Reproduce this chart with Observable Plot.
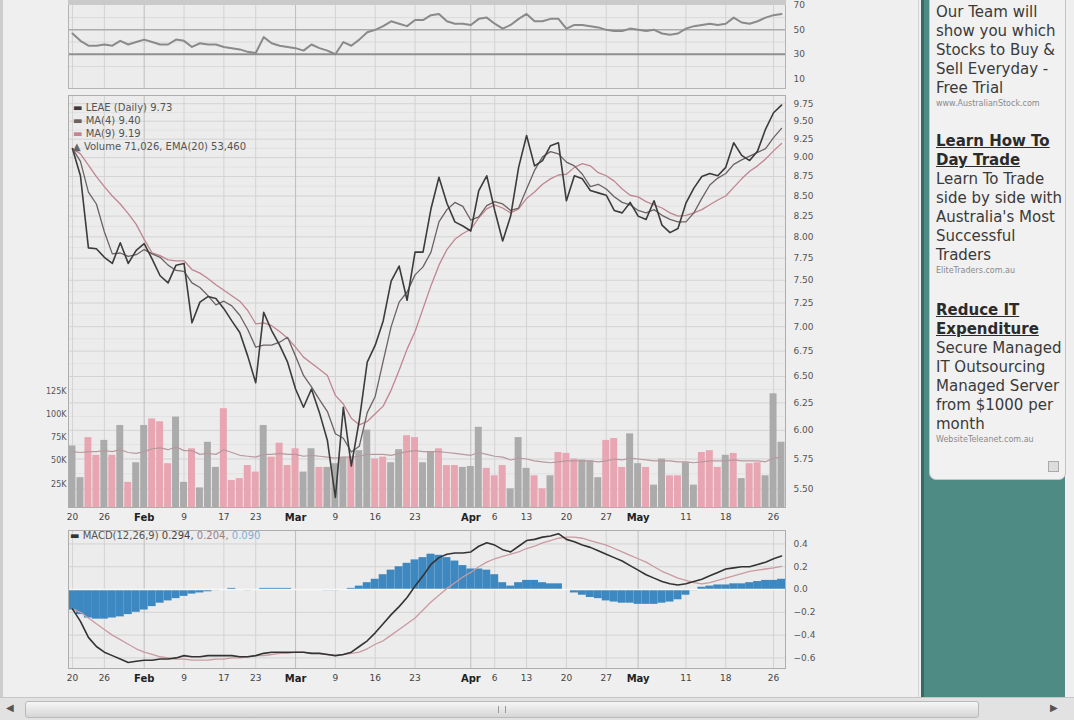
<!DOCTYPE html>
<html>
<head>
<meta charset="utf-8">
<script src="https://cdn.jsdelivr.net/npm/d3@7"></script>
<script src="https://cdn.jsdelivr.net/npm/@observablehq/plot@0.6"></script>
<style>
  body { margin: 0; width: 1074px; height: 720px; overflow: hidden; position: relative;
         background: #efefef; font-family: "DejaVu Sans", Verdana, sans-serif; }
  .layer { position: absolute; left: 0; }
  .layer svg { display: block; }
  #leftedge { position: absolute; left: 0; top: 0; width: 3px; height: 697px; background: #cdcdcd; }
  #topband { position: absolute; left: 68px; top: 0; width: 718px; height: 5px; background: #cacaca; }
  .legend { position: absolute; font-size: 10px; line-height: 13px; color: #555; white-space: nowrap; }
  #pagesep { position: absolute; left: 918px; top: 0; width: 1px; height: 697px; background: #d4d4d4; }
  #side { position: absolute; left: 921px; top: 0; width: 141px; height: 697px; background: #4e8b84;
          border-left: 3px solid #3a6964; }
  #ads { position: absolute; left: 929px; top: -6px; width: 135px; height: 476px; padding-top: 8px;
         background: #f1f1f1; border: 1px solid #c4c4c4; border-radius: 0 0 7px 7px; overflow: hidden;
         color: #3a3a3a; font-size: 15px; line-height: 19px; white-space: nowrap; }
  #ads .ad { padding-left: 6px; }
  #ads .hd { font-weight: bold; text-decoration: underline; color: #2b2b2b; }
  #ads .url { padding-left: 6px; font-size: 8px; line-height: 12px; color: #8a8a8a; }
  #ads .icon { position: absolute; left: 118px; top: 466px; width: 9px; height: 9px;
               border: 1px solid #aaa; background: #ddd; }
  #hscroll { position: absolute; left: 0; top: 697px; width: 1074px; height: 23px; background: #e2e2e2;
             border-top: 1px solid #c6c6c6; }
  #hscroll .thumb { position: absolute; left: 25px; top: 3px; width: 952px; height: 15px;
                    background: linear-gradient(#f6f6f6, #d6d6d6); border: 1px solid #b9b9b9; border-radius: 3px; }
  #hscroll .grip { position: absolute; left: 472px; top: 4px; width: 6px; height: 7px;
                   border-left: 1px solid #999; border-right: 1px solid #999; }
  #hscroll .arrow { position: absolute; top: 4px; font-size: 10px; color: #555; }
</style>
</head>
<body>
<div id="leftedge"></div>
<div class="layer" id="rsi" style="top:0"></div>
<div id="topband"></div>
<div class="layer" id="pgrid" style="top:90px"></div>
<div class="layer" id="vol" style="top:90px"></div>
<div class="layer" id="price" style="top:90px"></div>
<div class="layer" id="macd" style="top:525px"></div>

<div class="legend" style="left:73px; top:101px">
  <div><span style="color:#3c3c3c">&#9644;</span> LEAE (Daily) 9.73</div>
  <div><span style="color:#6d6262">&#9644;</span> MA(4) 9.40</div>
  <div><span style="color:#c08590">&#9644;</span> MA(9) 9.19</div>
  <div><span style="color:#666">&#9650;</span> Volume 71,026, EMA(20) 53,460</div>
</div>
<div class="legend" style="left:70px; top:529px">
  <span style="color:#333">&#9644;</span> MACD(12,26,9) <span style="color:#444">0.294,</span>
  <span style="color:#a07c82">0.204,</span> <span style="color:#7fb1d6">0.090</span>
</div>

<div id="pagesep"></div>
<div id="side"></div>
<div id="ads">
  <div class="ad">Our Team will<br>show you which<br>Stocks to Buy &amp;<br>Sell Everyday -<br>Free Trial</div>
  <div class="url">www.AustralianStock.com</div>
  <div class="ad" style="margin-top:22px"><span class="hd">Learn How To<br>Day Trade</span><br>Learn To Trade<br>side by side with<br>Australia's Most<br>Successful<br>Traders</div>
  <div class="url">EliteTraders.com.au</div>
  <div class="ad" style="margin-top:24px"><span class="hd">Reduce IT<br>Expenditure</span><br>Secure Managed<br>IT Outsourcing<br>Managed Server<br>from $1000 per<br>month</div>
  <div class="url">WebsiteTeleanet.com.au</div>
  <div class="icon"></div>
</div>
<div id="hscroll">
  <div class="arrow" style="left:6px">&#9664;</div>
  <div class="thumb"><div class="grip"></div></div>
  <div class="arrow" style="left:1050px">&#9654;</div>
</div>

<script>
// trading-day index 0..89 (20 Jan - end of May)
const tickIdx = [0, 4, 14, 19, 23, 33, 38, 43, 53, 57, 62, 67, 77, 82, 88];
const tickLabels = ["20", "26", "9", "17", "23", "9", "16", "23", "6", "13", "20", "27", "11", "18", "26"];
const monthIdx = [9, 28, 50, 71];
const monthLabels = ["Feb", "Mar", "Apr", "May"];

const priceTicks = [5.5, 5.75, 6, 6.25, 6.5, 6.75, 7, 7.25, 7.5, 7.75, 8, 8.25, 8.5, 8.75, 9, 9.25, 9.5, 9.75];
const volTicks = [25000, 50000, 75000, 100000, 125000];
const macdTicks = [-0.6, -0.4, -0.2, 0, 0.2, 0.4];
const rsiTicks = [70, 50, 30, 10];

const close = [
  9.12, 8.76, 7.87, 7.86, 7.76, 7.69, 7.93, 7.69, 7.84, 7.92,
  7.74, 7.55, 7.47, 7.67, 7.69, 7.04, 7.26, 7.32, 7.30, 7.19,
  7.06, 6.94, 6.70, 6.44, 7.15, 6.96, 6.81, 6.64, 6.38, 6.21,
  6.38, 6.16, 5.91, 5.43, 6.21, 5.69, 6.09, 6.64, 6.81, 7.06,
  7.49, 7.66, 7.28, 7.82, 7.82, 8.34, 8.74, 8.41, 8.18, 8.13,
  8.07, 8.57, 8.76, 8.32, 7.95, 8.25, 8.87, 9.30, 8.89, 8.96,
  9.16, 9.20, 8.44, 8.76, 8.72, 8.57, 8.54, 8.51, 8.32, 8.29,
  8.42, 8.25, 8.21, 8.44, 8.14, 8.05, 8.10, 8.41, 8.60, 8.75,
  8.79, 8.76, 8.87, 9.20, 9.03, 8.96, 9.09, 9.39, 9.62, 9.73];

const ma4 = [
  9.12, 8.95, 8.55, 8.40, 8.06, 7.80, 7.81, 7.77, 7.79, 7.85,
  7.80, 7.76, 7.67, 7.61, 7.60, 7.47, 7.42, 7.33, 7.23, 7.27,
  7.22, 7.12, 6.97, 6.79, 6.81, 6.81, 6.84, 6.89, 6.70, 6.51,
  6.40, 6.28, 6.17, 5.97, 5.93, 5.81, 5.86, 6.16, 6.31, 6.65,
  7.00, 7.26, 7.37, 7.56, 7.65, 7.82, 8.18, 8.33, 8.42, 8.37,
  8.20, 8.24, 8.38, 8.43, 8.40, 8.32, 8.35, 8.59, 8.83, 9.01,
  9.08, 9.05, 8.94, 8.89, 8.78, 8.62, 8.65, 8.59, 8.49, 8.42,
  8.39, 8.32, 8.29, 8.33, 8.26, 8.21, 8.18, 8.18, 8.29, 8.47,
  8.64, 8.73, 8.79, 8.91, 8.97, 9.02, 9.07, 9.12, 9.27, 9.40];

const ma9 = [
  9.12, 9.05, 8.90, 8.75, 8.62, 8.50, 8.40, 8.28, 8.15, 7.97,
  7.81, 7.78, 7.73, 7.72, 7.72, 7.62, 7.58, 7.52, 7.45, 7.39,
  7.33, 7.27, 7.17, 7.03, 7.04, 7.01, 6.95, 6.88, 6.79, 6.69,
  6.63, 6.57, 6.51, 6.32, 6.24, 6.11, 6.05, 6.08, 6.15, 6.22,
  6.37, 6.56, 6.77, 6.95, 7.19, 7.44, 7.67, 7.85, 7.97, 8.04,
  8.09, 8.23, 8.34, 8.39, 8.35, 8.29, 8.34, 8.47, 8.55, 8.65,
  8.72, 8.77, 8.78, 8.87, 8.92, 8.89, 8.80, 8.76, 8.69, 8.59,
  8.51, 8.49, 8.43, 8.39, 8.35, 8.29, 8.25, 8.26, 8.29, 8.33,
  8.39, 8.45, 8.50, 8.61, 8.72, 8.82, 8.89, 8.98, 9.09, 9.19];

// volume in thousands, 1 = down day (pink bar)
const volK = [
  66, 32, 75, 56, 72, 56, 88, 27, 48, 88,
  95, 92, 47, 97, 27, 63, 21, 70, 43, 106,
  29, 31, 45, 38, 88, 54, 69, 45, 63, 38,
  63, 43, 43, 47, 54, 54, 61, 83, 52, 54,
  48, 62, 77, 75, 48, 59, 63, 45, 45, 43,
  44, 86, 42, 34, 45, 20, 75, 42, 34, 20,
  34, 59, 58, 52, 51, 50, 32, 72, 74, 43,
  79, 47, 43, 24, 52, 34, 34, 48, 24, 59,
  61, 43, 56, 58, 31, 47, 48, 34, 122, 70];
const volDown = [
  0, 0, 1, 1, 0, 1, 0, 1, 0, 0,
  1, 1, 1, 0, 0, 1, 0, 0, 0, 1,
  1, 1, 1, 1, 0, 1, 1, 1, 1, 0,
  0, 1, 0, 0, 0, 1, 0, 0, 1, 1,
  0, 0, 1, 1, 0, 0, 1, 1, 1, 0,
  0, 0, 1, 1, 1, 0, 0, 0, 1, 1,
  0, 1, 1, 1, 0, 0, 0, 1, 1, 1,
  0, 0, 1, 0, 0, 1, 1, 0, 0, 1,
  1, 1, 0, 1, 0, 1, 1, 0, 0, 0];
const volEmaK = [
  60, 59, 60, 60, 61, 60, 62, 59, 58, 60,
  63, 64, 62, 65, 61, 61, 57, 58, 57, 62,
  59, 56, 55, 54, 57, 57, 58, 57, 57, 55,
  56, 55, 54, 53, 54, 54, 55, 57, 57, 57,
  56, 58, 60, 61, 60, 60, 60, 59, 58, 57,
  56, 59, 57, 55, 54, 51, 53, 52, 50, 49,
  48, 49, 50, 50, 50, 50, 49, 50, 52, 51,
  53, 52, 51, 50, 50, 50, 49, 49, 48, 49,
  50, 50, 50, 51, 50, 50, 50, 49, 53, 54];

const rsi = [
  47, 41, 37, 37, 38, 37, 41, 38, 40, 42,
  40, 38, 38, 42, 41, 36, 39, 38, 38, 36,
  35, 34, 32, 31, 44, 39, 37, 36, 35, 33,
  38, 35, 33, 30, 40, 37, 42, 48, 50, 53,
  57, 55, 53, 58, 58, 62, 63, 57, 55, 55,
  54, 59, 60, 55, 51, 54, 59, 63, 57, 57,
  59, 59, 51, 54, 54, 53, 52, 50, 49, 49,
  51, 50, 49, 50, 47, 46, 47, 51, 53, 54,
  55, 54, 55, 60, 56, 55, 57, 60, 62, 63];

const macd = [
  -0.17, -0.28, -0.42, -0.50, -0.55, -0.58, -0.61, -0.64, -0.63, -0.62,
  -0.62, -0.61, -0.61, -0.60, -0.58, -0.59, -0.59, -0.58, -0.58, -0.58,
  -0.58, -0.59, -0.59, -0.58, -0.56, -0.55, -0.55, -0.55, -0.55, -0.55,
  -0.56, -0.56, -0.57, -0.58, -0.57, -0.55, -0.50, -0.45, -0.38, -0.30,
  -0.22, -0.15, -0.07, 0.03, 0.12, 0.22, 0.28, 0.31, 0.32, 0.32,
  0.33, 0.38, 0.41, 0.39, 0.35, 0.33, 0.38, 0.43, 0.44, 0.46,
  0.47, 0.49, 0.44, 0.42, 0.39, 0.37, 0.34, 0.31, 0.28, 0.25,
  0.21, 0.17, 0.13, 0.10, 0.07, 0.05, 0.04, 0.05, 0.07, 0.09,
  0.12, 0.15, 0.18, 0.19, 0.20, 0.20, 0.22, 0.24, 0.27, 0.294];
const signal = [
  -0.17, -0.20, -0.25, -0.30, -0.35, -0.40, -0.44, -0.48, -0.52, -0.55,
  -0.57, -0.59, -0.60, -0.61, -0.61, -0.62, -0.62, -0.62, -0.61, -0.61,
  -0.60, -0.60, -0.59, -0.58, -0.58, -0.57, -0.56, -0.56, -0.55, -0.55,
  -0.56, -0.56, -0.57, -0.58, -0.57, -0.56, -0.55, -0.52, -0.48, -0.45,
  -0.40, -0.35, -0.30, -0.25, -0.18, -0.11, -0.05, 0.01, 0.06, 0.11,
  0.15, 0.20, 0.24, 0.27, 0.29, 0.31, 0.33, 0.36, 0.38, 0.41,
  0.43, 0.45, 0.46, 0.46, 0.45, 0.43, 0.41, 0.39, 0.36, 0.33,
  0.30, 0.27, 0.24, 0.20, 0.16, 0.13, 0.10, 0.08, 0.06, 0.05,
  0.06, 0.08, 0.10, 0.12, 0.14, 0.16, 0.17, 0.18, 0.19, 0.204];
const hist = [
  -0.18, -0.22, -0.25, -0.26, -0.26, -0.25, -0.24, -0.22, -0.20, -0.18,
  -0.15, -0.12, -0.10, -0.08, -0.06, -0.04, -0.03, -0.02, -0.01, 0.00,
  0.01, 0.00, -0.01, 0.00, 0.01, 0.01, 0.01, 0.01, 0.00, 0.00,
  0.00, 0.00, -0.01, -0.01, 0.00, 0.01, 0.03, 0.06, 0.09, 0.13,
  0.17, 0.20, 0.23, 0.26, 0.28, 0.31, 0.30, 0.28, 0.25, 0.21,
  0.18, 0.18, 0.17, 0.13, 0.06, 0.03, 0.06, 0.08, 0.08, 0.06,
  0.05, 0.05, 0.00, -0.03, -0.05, -0.07, -0.08, -0.10, -0.11, -0.12,
  -0.12, -0.13, -0.13, -0.13, -0.12, -0.11, -0.09, -0.05, -0.01, 0.02,
  0.03, 0.04, 0.04, 0.05, 0.05, 0.06, 0.07, 0.08, 0.08, 0.09];

const days = close.map((c, i) => ({
  i, close: c, ma4: ma4[i], ma9: ma9[i],
  vol: volK[i] * 1000, down: volDown[i] === 1, ema: volEmaK[i] * 1000,
  rsi: rsi[i], macd: macd[i], signal: signal[i], hist: hist[i]
}));

const W = 830, ML = 68, MR = 45;
const xDomain = [-0.5, 89.5];
const font = "'DejaVu Sans', Verdana, sans-serif";
const dayLabel = new Map(tickIdx.map((t, k) => [t, tickLabels[k]]));
const monthLabel = new Map(monthIdx.map((t, k) => [t, monthLabels[k]]));

function vGrid() {
  return [
    Plot.ruleX(tickIdx, {stroke: "#d3d3d3"}),
    Plot.ruleX(monthIdx, {stroke: "#bebebe"})
  ];
}

function xAxes() {
  return [
    Plot.axisX(tickIdx, {anchor: "bottom", tickSize: 0, tickPadding: 6, label: null,
      tickFormat: d => dayLabel.get(d), fontSize: 9, color: "#444"}),
    Plot.axisX(monthIdx, {anchor: "bottom", tickSize: 0, tickPadding: 6, label: null,
      tickFormat: d => monthLabel.get(d), fontSize: 10, fontWeight: "bold", color: "#222"})
  ];
}

const base = {width: W, marginLeft: ML, marginRight: MR,
  style: {background: "transparent", fontFamily: font}};

// RSI strip at the top
let rsiChart = Plot.plot({
  ...base, height: 92, marginTop: 0, marginBottom: 4,
  x: {domain: xDomain, axis: null},
  y: {domain: [2, 74], axis: null},
  marks: [
    Plot.frame({fill: "#ececec"}),
    Plot.ruleY([20, 40, 60], {stroke: "#dadada"}),
    ...vGrid(),
    Plot.ruleY([50], {stroke: "#ababab", strokeWidth: 1.5}),
    Plot.ruleY([30], {stroke: "#8f8f8f", strokeWidth: 2}),
    Plot.lineY(days, {x: "i", y: "rsi", stroke: "#8a8a8a", strokeWidth: 2}),
    Plot.axisY(rsiTicks, {anchor: "right", tickSize: 0, tickPadding: 8, fontSize: 9, color: "#555", label: null}),
    Plot.frame({stroke: "#b3b3b3"})
  ]
});

// price panel background: grid + right axis (log scale)
let gridChart = Plot.plot({
  ...base, height: 440, marginTop: 5, marginBottom: 23,
  x: {domain: xDomain, axis: null},
  y: {type: "log", domain: [5.35, 9.87], axis: null},
  marks: [
    Plot.frame({fill: "#ececec"}),
    Plot.ruleY(priceTicks.slice(1).map(t => t - 0.125), {stroke: "#e2e2e2"}),
    Plot.ruleY(priceTicks, {stroke: "#d3d3d3"}),
    ...vGrid(),
    Plot.axisY(priceTicks, {anchor: "right", tickSize: 0, tickPadding: 8, label: null,
      tickFormat: d3.format(".2f"), fontSize: 9, color: "#555"})
  ]
});

// volume bars share the price panel, own linear scale
let volChart = Plot.plot({
  ...base, height: 440, marginTop: 5, marginBottom: 23,
  x: {domain: xDomain, axis: null},
  y: {domain: [0, 442000], axis: null},
  marks: [
    Plot.rectY(days, {x1: d => d.i - 0.5, x2: d => d.i + 0.5, y1: 0, y2: "vol",
      fill: d => d.down ? "#e8a5b2" : "#ababab", insetLeft: 0.5, insetRight: 0.5}),
    Plot.lineY(days, {x: "i", y: "ema", stroke: "#b7999e", strokeWidth: 1.2}),
    Plot.axisY(volTicks, {anchor: "left", tickSize: 0, tickPadding: 2, label: null,
      tickFormat: d => d / 1000 + "K", fontSize: 8, color: "#555"}),
    ...xAxes()
  ]
});

let priceChart = Plot.plot({
  ...base, height: 440, marginTop: 5, marginBottom: 23,
  x: {domain: xDomain, axis: null},
  y: {type: "log", domain: [5.35, 9.87], axis: null},
  marks: [
    Plot.lineY(days, {x: "i", y: "ma9", stroke: "#c08590", strokeWidth: 1.3}),
    Plot.lineY(days, {x: "i", y: "ma4", stroke: "#6d6262", strokeWidth: 1.3}),
    Plot.lineY(days, {x: "i", y: "close", stroke: "#3c3c3c", strokeWidth: 1.6}),
    Plot.frame({stroke: "#adadad"})
  ]
});

let macdChart = Plot.plot({
  ...base, height: 165, marginTop: 5, marginBottom: 22,
  x: {domain: xDomain, axis: null},
  y: {domain: [-0.693, 0.518], axis: null},
  marks: [
    Plot.frame({fill: "#ececec"}),
    Plot.ruleY(macdTicks, {stroke: "#d3d3d3"}),
    ...vGrid(),
    Plot.rectY(days, {x1: d => d.i - 0.5, x2: d => d.i + 0.5, y1: 0, y2: "hist", fill: "#3d88c0"}),
    Plot.ruleY([0], {stroke: "#f7f7f7", strokeWidth: 1.5}),
    Plot.lineY(days, {x: "i", y: "signal", stroke: "#c99aa1", strokeWidth: 1.3}),
    Plot.lineY(days, {x: "i", y: "macd", stroke: "#333", strokeWidth: 1.6}),
    Plot.axisY(macdTicks, {anchor: "right", tickSize: 0, tickPadding: 8, label: null,
      tickFormat: d3.format(".1f"), fontSize: 9, color: "#555"}),
    ...xAxes(),
    Plot.frame({stroke: "#adadad"})
  ]
});

d3.select("#rsi").append(() => rsiChart);
d3.select("#pgrid").append(() => gridChart);
d3.select("#vol").append(() => volChart);
d3.select("#price").append(() => priceChart);
d3.select("#macd").append(() => macdChart);
</script>
</body>
</html>
